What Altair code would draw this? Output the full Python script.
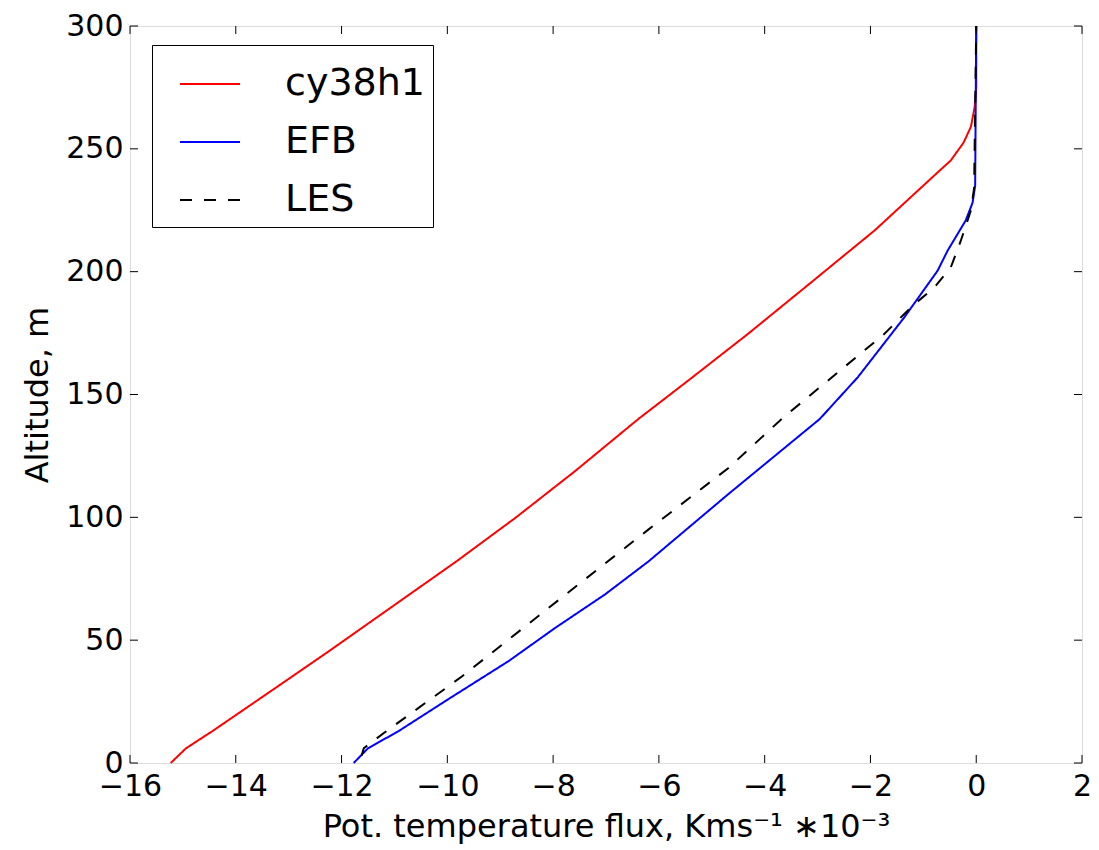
import altair as alt
import pandas as pd

# --- data ---
series_names = ["cy38h1", "EFB", "LES"]
series_colors = ["#ff0000", "#0000ff", "#000000"]

red_flux = [-15.23, -14.94, -14.44, -13.30, -12.24, -11.00, -9.82, -8.70, -7.58, -6.39, -5.45, -4.32, -3.10, -1.92, -0.79, -0.48, -0.24, -0.10, -0.03, 0.0, 0.0]
red_alt = [0, 6, 13, 29.8, 45.5, 64.3, 82.2, 100, 118.9, 140, 155.6, 174.6, 196, 216.8, 239.2, 245.3, 252.5, 259, 267, 275, 300]

blue_flux = [-11.77, -11.50, -10.92, -9.98, -8.84, -7.96, -7.02, -6.20, -4.69, -2.96, -2.24, -1.36, -0.73, -0.54, -0.20, -0.07, -0.02, 0.0]
blue_alt = [0, 6, 13, 26, 41.5, 55, 68.6, 82, 109.4, 140, 157, 181.4, 200.4, 208.6, 220.8, 228, 235, 300]

les_flux = [-11.62, -11.58, -11.20, -9.72, -7.84, -6.20, -4.69, -3.65, -1.74, -1.20, -0.79, -0.48, -0.29, -0.10, -0.04, 0.0]
les_alt = [3, 6, 12.2, 35.3, 67.3, 95, 120, 140.6, 174.6, 186.2, 193.6, 201.8, 212.7, 225, 234, 300]

x_ticks = [-16, -14, -12, -10, -8, -6, -4, -2, 0, 2]
y_ticks = [0, 50, 100, 150, 200, 250, 300]

rows = []
for name, xs, zs in zip(series_names, [red_flux, blue_flux, les_flux], [red_alt, blue_alt, les_alt]):
    for i, (x, z) in enumerate(zip(xs, zs)):
        rows.append({"series": name, "flux": x, "alt": z, "idx": i})
df = pd.DataFrame(rows)

W, H = 952, 737
TICK = 8
FONT = "DejaVu Sans"

xscale = alt.Scale(domain=[-16, 2], nice=False, zero=False)
yscale = alt.Scale(domain=[0, 300], nice=False, zero=False)

legend = alt.Legend(
    title=None, orient="none", legendX=22, legendY=19,
    strokeColor="black", fillColor="white", cornerRadius=0, padding=8,
    symbolType="stroke", symbolSize=3600, symbolStrokeWidth=2, symbolOffset=19,
    labelFontSize=38, labelFont=FONT, labelColor="black", labelOffset=44,
    rowPadding=8, labelLimit=400,
)

color = alt.Color("series:N", scale=alt.Scale(domain=series_names, range=series_colors), legend=legend)
dash = alt.StrokeDash("series:N", scale=alt.Scale(domain=series_names, range=[[1, 0], [1, 0], [12, 12]]),
                      legend=legend)

xaxis = alt.Axis(values=x_ticks, title="Pot. temperature flux, Kms⁻¹ ∗10⁻³", grid=False, domain=False,
                 ticks=False, tickSize=0, labelFontSize=30, labelPadding=8, labelFont=FONT,
                 labelColor="black", labelFlush=False, titleFont=FONT, titleFontSize=32,
                 titleFontWeight="normal", titleColor="black", titleBaseline="alphabetic", titleY=73)
yaxis = alt.Axis(values=y_ticks, title="Altitude, m", grid=False, domain=False,
                 ticks=False, tickSize=0, labelFontSize=30, labelPadding=7, labelFont=FONT,
                 labelColor="black", labelFlush=False, titleFont=FONT, titleFontSize=32,
                 titleFontWeight="normal", titleColor="black", titleBaseline="alphabetic",
                 titleX=-83, titleY=H / 2)

base = alt.Chart(df)

def series_layer(name):
    return base.transform_filter(alt.datum.series == name).mark_line(strokeWidth=2).encode(
        x=alt.X("flux:Q", scale=xscale, axis=xaxis),
        y=alt.Y("alt:Q", scale=yscale, axis=yaxis),
        color=color,
        strokeDash=dash,
        order=alt.Order("idx:Q"),
    )

xt = pd.DataFrame({"v": x_ticks})
yt = pd.DataFrame({"v": y_ticks})

tick_bottom = alt.Chart(xt).mark_rule(color="black", strokeWidth=1).encode(
    x=alt.X("v:Q", scale=xscale), y=alt.value(H), y2=alt.value(H - TICK))
tick_top = alt.Chart(xt).mark_rule(color="black", strokeWidth=1).encode(
    x=alt.X("v:Q", scale=xscale), y=alt.value(0), y2=alt.value(TICK))
tick_left = alt.Chart(yt).mark_rule(color="black", strokeWidth=1).encode(
    y=alt.Y("v:Q", scale=yscale), x=alt.value(0), x2=alt.value(TICK))
tick_right = alt.Chart(yt).mark_rule(color="black", strokeWidth=1).encode(
    y=alt.Y("v:Q", scale=yscale), x=alt.value(W), x2=alt.value(W - TICK))

chart = alt.layer(
    series_layer("cy38h1"), series_layer("EFB"), series_layer("LES"),
    tick_bottom, tick_top, tick_left, tick_right,
).properties(
    width=W, height=H,
    autosize=alt.AutoSizeParams(type="none"),
    padding={"left": 122, "top": 18, "right": 9, "bottom": 85},
).configure_view(
    stroke="black", strokeWidth=1.7
).configure(background="white")

chart.save("out.html", embed_options={"renderer": "svg", "actions": False})
